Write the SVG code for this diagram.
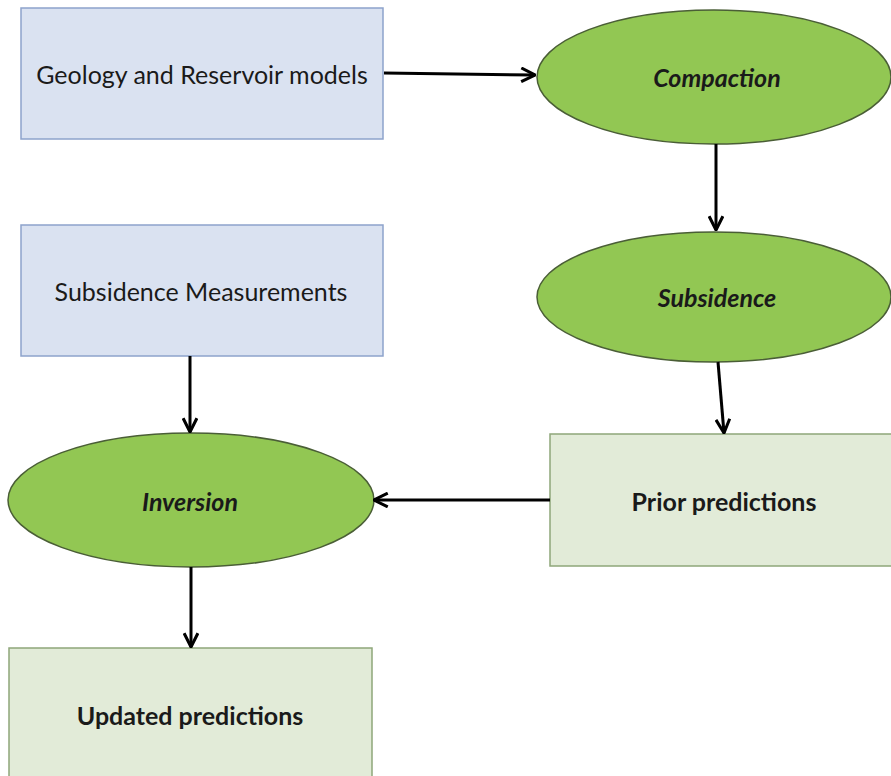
<svg xmlns="http://www.w3.org/2000/svg" width="891" height="776" viewBox="0 0 891 776">
<style>
.blue{fill:#dae2f1;stroke:#8da3cb;stroke-width:1.5}
.pale{fill:#e2ebd8;stroke:#8ea77a;stroke-width:1.5}
.ell{fill:#92c753;stroke:#4a5e36;stroke-width:1.5}
.t{font-family:Lato,"Open Sans",sans-serif;font-size:25px;fill:#1a1a1a;text-anchor:middle;dominant-baseline:central}
.b{font-weight:bold}
.i{font-style:italic;font-weight:bold}
.c{stroke:#000;stroke-width:3;fill:none}
</style>
<defs>
<marker id="arr" viewBox="0 0 12 12" refX="11" refY="6" markerWidth="5.5" markerHeight="5.5" orient="auto" markerUnits="strokeWidth">
<path d="M1,1 L11,6 L1,11" fill="none" stroke="#000" stroke-width="2.2" stroke-linejoin="miter"/>
</marker>
</defs>
<rect width="891" height="776" fill="#fff"/>
<g id="geology">
<rect class="blue" x="21" y="8" width="362" height="131"/>
<text class="t" x="202" y="74">Geology and Reservoir models</text>
</g>
<g id="compaction">
<ellipse class="ell" cx="714" cy="77" rx="177" ry="67"/>
<text class="t i" x="717" y="77">Compaction</text>
</g>
<g id="subsidence">
<ellipse class="ell" cx="714" cy="297" rx="177" ry="65"/>
<text class="t i" x="717" y="297">Subsidence</text>
</g>
<g id="measurements">
<rect class="blue" x="21" y="225" width="362" height="131"/>
<text class="t" x="201" y="291">Subsidence Measurements</text>
</g>
<g id="prior">
<rect class="pale" x="550" y="434" width="345" height="132"/>
<text class="t b" x="724" y="501">Prior predictions</text>
</g>
<g id="inversion">
<ellipse class="ell" cx="191" cy="500" rx="183" ry="67"/>
<text class="t i" x="190" y="501">Inversion</text>
</g>
<g id="updated">
<rect class="pale" x="9" y="648" width="363" height="132"/>
<text class="t b" x="190" y="715">Updated predictions</text>
</g>
<g id="connectors">
<line class="c" x1="384" y1="73" x2="535" y2="75" marker-end="url(#arr)"/>
<line class="c" x1="716" y1="144" x2="716" y2="230" marker-end="url(#arr)"/>
<line class="c" x1="718" y1="362" x2="724" y2="433" marker-end="url(#arr)"/>
<line class="c" x1="190" y1="356" x2="190" y2="432" marker-end="url(#arr)"/>
<line class="c" x1="550" y1="500" x2="374" y2="500" marker-end="url(#arr)"/>
<line class="c" x1="191" y1="567" x2="191" y2="647" marker-end="url(#arr)"/>
</g>
</svg>
